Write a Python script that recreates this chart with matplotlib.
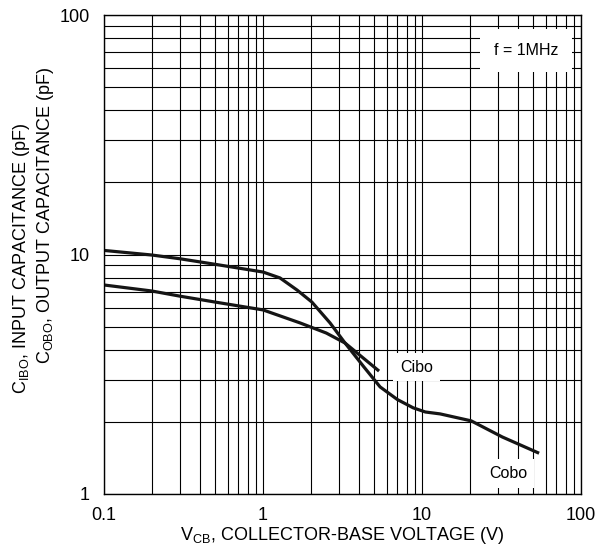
import numpy as np
import matplotlib.pyplot as plt
from matplotlib.ticker import LogLocator, NullFormatter, FixedLocator, FixedFormatter

plt.rcParams['font.family'] = ['Liberation Sans', 'DejaVu Sans']

# curve starting high, runs out to ~55 V (labelled "Cobo" on the original)
cobo_v = [0.1, 0.2, 0.3, 0.5, 1.0, 1.28, 1.64, 2.03, 2.64, 3.28, 4.3, 5.45, 7.0, 8.8, 10.5, 13.0, 20.4, 32.0, 54.5]
cobo_c = [10.4, 9.95, 9.6, 9.1, 8.45, 7.98, 7.1, 6.33, 5.18, 4.27, 3.4, 2.8, 2.48, 2.29, 2.2, 2.16, 2.02, 1.73, 1.48]

# curve starting low, ends at ~5.4 V (labelled "Cibo")
cibo_v = [0.1, 0.2, 0.3, 0.5, 1.0, 1.71, 2.5, 3.28, 5.37]
cibo_c = [7.46, 7.04, 6.7, 6.33, 5.87, 5.18, 4.7, 4.27, 3.26]

x_ticks = [0.1, 1, 10, 100]
x_labels = ['0.1', '1', '10', '100']
y_ticks = [1, 10, 100]
y_labels = ['1', '10', '100']

fig = plt.figure(figsize=(6.09, 5.48), dpi=100)
ax = fig.add_axes([104 / 609, 54 / 548, 477 / 609, 479 / 548])

ax.plot(cobo_v, cobo_c, color='#151515', lw=2.3, solid_capstyle='butt')
ax.plot(cibo_v, cibo_c, color='#151515', lw=2.3, solid_capstyle='butt')

ax.set_xscale('log')
ax.set_yscale('log')
ax.set_xlim(0.1, 100)
ax.set_ylim(1, 100)

ax.xaxis.set_major_locator(FixedLocator(x_ticks))
ax.xaxis.set_major_formatter(FixedFormatter(x_labels))
ax.yaxis.set_major_locator(FixedLocator(y_ticks))
ax.yaxis.set_major_formatter(FixedFormatter(y_labels))
ax.xaxis.set_minor_locator(LogLocator(base=10, subs=np.arange(2, 10)))
ax.yaxis.set_minor_locator(LogLocator(base=10, subs=np.arange(2, 10)))
ax.xaxis.set_minor_formatter(NullFormatter())
ax.yaxis.set_minor_formatter(NullFormatter())

ax.grid(which='both', color='black', lw=0.8)
ax.tick_params(which='both', length=0, labelsize=13)
ax.tick_params(axis='x', pad=9)
ax.tick_params(axis='y', pad=10)
for s in ax.spines.values():
    s.set_color('black')
    s.set_linewidth(1.0)

ax.text(45, 71, 'f = 1MHz', fontsize=11.5, ha='center', va='center',
        bbox=dict(facecolor='white', edgecolor='none', pad=10))
ax.text(9.2, 3.39, 'Cibo', fontsize=11.5, ha='center', va='center',
        bbox=dict(facecolor='white', edgecolor='none', pad=5))
ax.text(34.8, 1.22, 'Cobo', fontsize=11.5, ha='center', va='center',
        bbox=dict(facecolor='white', edgecolor='none', pad=5))

ax.set_xlabel(r'V$\mathregular{_{CB}}$, COLLECTOR-BASE VOLTAGE (V)', fontsize=13, labelpad=1)
fig.text(22 / 609, 1 - 258 / 548, r'C$\mathregular{_{IBO}}$, INPUT CAPACITANCE (pF)', rotation=90,
         fontsize=13, ha='center', va='center')
fig.text(46 / 609, 1 - 215 / 548, r'C$\mathregular{_{OBO}}$, OUTPUT CAPACITANCE (pF)', rotation=90,
         fontsize=13, ha='center', va='center')

fig.savefig('out.png', dpi=100)
